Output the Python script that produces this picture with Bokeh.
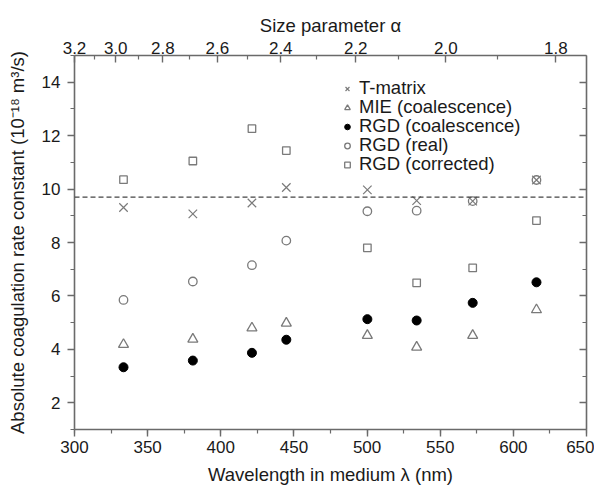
from bokeh.plotting import figure
from bokeh.models import (LinearAxis, Range1d, SingleIntervalTicker, FixedTicker,
                          Span, Legend, LegendItem, ColumnDataSource, CustomJSTickFormatter)
from bokeh.embed import file_html
from bokeh.resources import INLINE

# ---- data ----
wavelength = [333.5, 380.9, 421.3, 444.8, 500.2, 533.9, 572.2, 615.8]
t_matrix = [9.31, 9.07, 9.48, 10.06, 9.97, 9.57, 9.55, 10.34]
mie_coal = [4.18, 4.38, 4.80, 4.98, 4.52, 4.08, 4.52, 5.48]
rgd_coal = [3.33, 3.58, 3.87, 4.36, 5.13, 5.08, 5.74, 6.51]
rgd_real = [5.85, 6.54, 7.15, 8.07, 9.17, 9.19, 9.55, 10.34]
rgd_corr = [10.35, 11.05, 12.26, 11.44, 7.80, 6.49, 7.05, 8.82]
reference_level = 9.7

series_labels = ["T-matrix", "MIE (coalescence)", "RGD (coalescence)",
                 "RGD (real)", "RGD (corrected)"]

alpha_labels = [3.2, 3.0, 2.8, 2.6, 2.4, 2.2, 2.0, 1.8]
alpha_minor = [3.1, 2.9, 2.7, 2.5, 2.3, 2.1, 1.9]
ALPHA_C, ALPHA_D = 1353.6, -123.0   # lambda = C/alpha + D (top axis calibration)

FONT = "Liberation Sans"
TXT = "#1a1a1a"
AX = "#6a6a6a"
GRAY = "#7a7a7a"

p = figure(frame_width=512, frame_height=374, output_backend="svg", toolbar_location=None,
           x_range=Range1d(300, 650), y_range=Range1d(1, 15),
           min_border_left=74, min_border_right=8, min_border_top=55,
           min_border_bottom=50, x_axis_label="Wavelength in medium λ (nm)",
           y_axis_label="Absolute coagulation rate constant (10⁻¹⁸ m³/s)")
p.grid.visible = False
p.outline_line_color = None
p.background_fill_color = "white"
p.border_fill_color = "white"


def style_axis(ax):
    ax.axis_line_color = AX
    ax.axis_line_width = 1.6
    ax.major_tick_line_color = AX
    ax.minor_tick_line_color = AX
    ax.major_tick_line_width = 1.4
    ax.minor_tick_line_width = 1.2
    ax.major_label_text_font = FONT
    ax.major_label_text_font_size = "17px"
    ax.major_label_text_color = TXT
    ax.axis_label_text_font = FONT
    ax.axis_label_text_font_size = "18.5px"
    ax.axis_label_text_font_style = "normal"
    ax.axis_label_text_color = TXT


# bottom axis
xb = p.xaxis[0]
xb.ticker = SingleIntervalTicker(interval=50, num_minor_ticks=2)
style_axis(xb)
xb.major_tick_out = 7
xb.major_tick_in = 0
xb.minor_tick_out = 4
xb.minor_tick_in = 0
xb.major_label_standoff = 4
xb.axis_label_standoff = 8

# left axis
yl = p.yaxis[0]
yl.ticker = SingleIntervalTicker(interval=2, num_minor_ticks=2)
style_axis(yl)
yl.major_tick_out = 7
yl.major_tick_in = 0
yl.minor_tick_out = 4
yl.minor_tick_in = 0
yl.major_label_standoff = 7
yl.axis_label_standoff = 11

# right axis (ticks only)
yr = LinearAxis(ticker=SingleIntervalTicker(interval=2, num_minor_ticks=2),
                formatter=CustomJSTickFormatter(code="return ''"))
style_axis(yr)
yr.major_tick_out = 0
yr.major_tick_in = 7
yr.minor_tick_out = 0
yr.minor_tick_in = 4
yr.major_label_standoff = 0
p.add_layout(yr, "right")

# top axis: size parameter
alpha_pos = [round(ALPHA_C / a + ALPHA_D, 4) for a in alpha_labels]
alpha_minor_pos = [round(ALPHA_C / a + ALPHA_D, 4) for a in alpha_minor]
xt = LinearAxis(ticker=FixedTicker(ticks=alpha_pos, minor_ticks=alpha_minor_pos),
                axis_label="Size parameter α")
xt.major_label_overrides = {pos: f"{a:.1f}" for pos, a in zip(alpha_pos, alpha_labels)}
style_axis(xt)
xt.major_tick_out = 0
xt.major_tick_in = 7
xt.minor_tick_out = 0
xt.minor_tick_in = 4
xt.major_label_standoff = 2
xt.axis_label_standoff = 3
p.add_layout(xt, "above")

# dashed reference line
p.add_layout(Span(location=reference_level, dimension="width", line_color="#444444",
                  line_width=1.2, line_dash="5 3"))

src = ColumnDataSource(dict(x=wavelength, t=t_matrix, mie=mie_coal, rc=rgd_coal,
                            rr=rgd_real, rk=rgd_corr))

r_t = p.scatter("x", "t", source=src, marker="x", size=12, line_color=GRAY, line_width=1.2)
r_mie = p.scatter("x", "mie", source=src, marker="triangle", size=10, line_color=GRAY,
                  fill_color=None, line_width=1.3)
r_rc = p.scatter("x", "rc", source=src, marker="circle", size=9, line_color="black",
                 fill_color="black", line_width=1)
r_rr = p.scatter("x", "rr", source=src, marker="circle", size=8.5, line_color=GRAY,
                 fill_color=None, line_width=1.3)
r_rk = p.scatter("x", "rk", source=src, marker="square", size=7.5, line_color=GRAY,
                 fill_color=None, line_width=1.3)

# legend: one entry per Legend so the row pitch can be set exactly
ROW = 19
for i, (lab, rend) in enumerate(zip(series_labels, [r_t, r_mie, r_rc, r_rr, r_rk])):
    lg = Legend(items=[LegendItem(label=lab, renderers=[rend])],
                location=(266, 330 - ROW * i))
    lg.padding = 0
    lg.margin = 0
    lg.spacing = 0
    lg.border_line_color = None
    lg.background_fill_alpha = 0
    lg.glyph_width = 14
    lg.glyph_height = 19
    lg.label_height = 19
    lg.label_standoff = 5
    lg.label_text_font = FONT
    lg.label_text_font_size = "18.5px"
    lg.label_text_color = TXT
    p.add_layout(lg, "center")

open("out.html", "w").write(file_html(p, INLINE))
